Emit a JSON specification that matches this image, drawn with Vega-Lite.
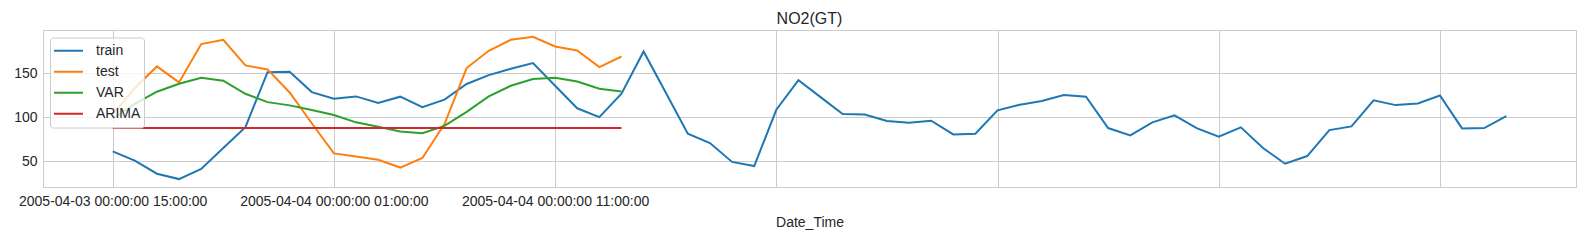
{
  "$schema": "https://vega.github.io/schema/vega-lite/v6.json",
  "width": 1533,
  "height": 157,
  "autosize": {"type": "none"},
  "padding": {"left": 43, "top": 30, "right": 9, "bottom": 53},
  "background": "white",
  "title": {"text": "NO2(GT)", "fontSize": 16, "font": "Liberation Sans", "fontWeight": "normal", "color": "#262626", "offset": 3, "anchor": "middle"},
  "config": {
    "view": {"stroke": "#cccccc", "strokeWidth": 1},
    "font": "Liberation Sans",
    "axis": {"domain": false, "ticks": false, "gridColor": "#cccccc", "gridWidth": 1, "labelFont": "Liberation Sans", "labelFontSize": 14, "labelColor": "#262626", "titleFont": "Liberation Sans", "titleFontSize": 14, "titleFontWeight": "normal", "titleColor": "#262626"}
  },
  "data": {"values": [
    {"i":0,"s":"train","v":61},{"i":1,"s":"train","v":50.4},{"i":2,"s":"train","v":35.6},{"i":3,"s":"train","v":29.5},{"i":4,"s":"train","v":41},{"i":5,"s":"train","v":64.8},{"i":6,"s":"train","v":88.6},{"i":7,"s":"train","v":151},{"i":8,"s":"train","v":151.5},{"i":9,"s":"train","v":128.4},
    {"i":10,"s":"train","v":120.8},{"i":11,"s":"train","v":123.5},{"i":12,"s":"train","v":116},{"i":13,"s":"train","v":123.2},{"i":14,"s":"train","v":111.3},{"i":15,"s":"train","v":119.8},{"i":16,"s":"train","v":137.6},{"i":17,"s":"train","v":147.7},{"i":18,"s":"train","v":155},{"i":19,"s":"train","v":161.4},
    {"i":20,"s":"train","v":135.6},{"i":21,"s":"train","v":110},{"i":22,"s":"train","v":100},{"i":23,"s":"train","v":126.5},{"i":24,"s":"train","v":174.6},{"i":25,"s":"train","v":128},{"i":26,"s":"train","v":81.1},{"i":27,"s":"train","v":70.5},{"i":28,"s":"train","v":49},{"i":29,"s":"train","v":44.3},
    {"i":30,"s":"train","v":108.3},{"i":31,"s":"train","v":142},{"i":32,"s":"train","v":122.7},{"i":33,"s":"train","v":103.4},{"i":34,"s":"train","v":103},{"i":35,"s":"train","v":95.5},{"i":36,"s":"train","v":93.6},{"i":37,"s":"train","v":95.8},{"i":38,"s":"train","v":80.3},{"i":39,"s":"train","v":81},
    {"i":40,"s":"train","v":107.6},{"i":41,"s":"train","v":114},{"i":42,"s":"train","v":118.2},{"i":43,"s":"train","v":125},{"i":44,"s":"train","v":123.1},{"i":45,"s":"train","v":87.5},{"i":46,"s":"train","v":79.2},{"i":47,"s":"train","v":94},{"i":48,"s":"train","v":101.9},{"i":49,"s":"train","v":87.5},
    {"i":50,"s":"train","v":77.7},{"i":51,"s":"train","v":88.3},{"i":52,"s":"train","v":64.8},{"i":53,"s":"train","v":47},{"i":54,"s":"train","v":55.7},{"i":55,"s":"train","v":85.2},{"i":56,"s":"train","v":89.4},{"i":57,"s":"train","v":119},{"i":58,"s":"train","v":113.6},{"i":59,"s":"train","v":115.5},
    {"i":60,"s":"train","v":124.6},{"i":61,"s":"train","v":87.1},{"i":62,"s":"train","v":87.5},{"i":63,"s":"train","v":101.1},
    {"i":0,"s":"test","v":103},{"i":1,"s":"test","v":133},{"i":2,"s":"test","v":157.6},{"i":3,"s":"test","v":139.4},{"i":4,"s":"test","v":183},{"i":5,"s":"test","v":187.9},{"i":6,"s":"test","v":158.7},{"i":7,"s":"test","v":154.2},{"i":8,"s":"test","v":128},{"i":9,"s":"test","v":93},
    {"i":10,"s":"test","v":58.7},{"i":11,"s":"test","v":55.3},{"i":12,"s":"test","v":51.5},{"i":13,"s":"test","v":42.6},{"i":14,"s":"test","v":53.5},{"i":15,"s":"test","v":92},{"i":16,"s":"test","v":155.7},{"i":17,"s":"test","v":175.4},{"i":18,"s":"test","v":187.9},{"i":19,"s":"test","v":191.3},
    {"i":20,"s":"test","v":180.3},{"i":21,"s":"test","v":175.8},{"i":22,"s":"test","v":156.8},{"i":23,"s":"test","v":168.9},
    {"i":0,"s":"VAR","v":98.1},{"i":1,"s":"VAR","v":115},{"i":2,"s":"VAR","v":128.8},{"i":3,"s":"VAR","v":137.9},{"i":4,"s":"VAR","v":144.7},{"i":5,"s":"VAR","v":141.3},{"i":6,"s":"VAR","v":126.5},{"i":7,"s":"VAR","v":117},{"i":8,"s":"VAR","v":113.3},{"i":9,"s":"VAR","v":108},
    {"i":10,"s":"VAR","v":102.3},{"i":11,"s":"VAR","v":94},{"i":12,"s":"VAR","v":89},{"i":13,"s":"VAR","v":83.5},{"i":14,"s":"VAR","v":81.6},{"i":15,"s":"VAR","v":90},{"i":16,"s":"VAR","v":106},{"i":17,"s":"VAR","v":123.5},{"i":18,"s":"VAR","v":135.6},{"i":19,"s":"VAR","v":143.2},
    {"i":20,"s":"VAR","v":144.7},{"i":21,"s":"VAR","v":140.5},{"i":22,"s":"VAR","v":132.2},{"i":23,"s":"VAR","v":129.2},
    {"i":0,"s":"ARIMA","v":87.5},{"i":1,"s":"ARIMA","v":87.5},{"i":2,"s":"ARIMA","v":87.5},{"i":3,"s":"ARIMA","v":87.5},{"i":4,"s":"ARIMA","v":87.5},{"i":5,"s":"ARIMA","v":87.5},{"i":6,"s":"ARIMA","v":87.5},{"i":7,"s":"ARIMA","v":87.5},{"i":8,"s":"ARIMA","v":87.5},{"i":9,"s":"ARIMA","v":87.5},
    {"i":10,"s":"ARIMA","v":87.5},{"i":11,"s":"ARIMA","v":87.5},{"i":12,"s":"ARIMA","v":87.5},{"i":13,"s":"ARIMA","v":87.5},{"i":14,"s":"ARIMA","v":87.5},{"i":15,"s":"ARIMA","v":87.5},{"i":16,"s":"ARIMA","v":87.5},{"i":17,"s":"ARIMA","v":87.5},{"i":18,"s":"ARIMA","v":87.5},{"i":19,"s":"ARIMA","v":87.5},
    {"i":20,"s":"ARIMA","v":87.5},{"i":21,"s":"ARIMA","v":87.5},{"i":22,"s":"ARIMA","v":87.5},{"i":23,"s":"ARIMA","v":87.5}
  ]},
  "mark": {"type": "line", "strokeWidth": 2, "clip": true},
  "encoding": {
    "x": {"field": "i", "type": "quantitative", "title": "Date_Time",
      "scale": {"domain": [-3.15, 66.15], "nice": false, "zero": false},
      "axis": {"values": [0, 10, 20, 30, 40, 50, 60], "labelPadding": 7, "titlePadding": 7, "labelFlush": false, "labelOverlap": false, "labelLimit": 0,
        "labelExpr": "datum.value == 0 ? '2005-04-03 00:00:00 15:00:00' : datum.value == 10 ? '2005-04-04 00:00:00 01:00:00' : datum.value == 20 ? '2005-04-04 00:00:00 11:00:00' : ''"}},
    "y": {"field": "v", "type": "quantitative", "title": null,
      "scale": {"domain": [20.5, 199], "nice": false, "zero": false},
      "axis": {"values": [50, 100, 150], "labelPadding": 6}},
    "color": {"field": "s", "type": "nominal",
      "scale": {"domain": ["train", "test", "VAR", "ARIMA"], "range": ["#1f77b4", "#ff7f0e", "#2ca02c", "#d62728"]},
      "legend": {"title": null, "orient": "none", "legendX": 7, "legendY": 7.5, "padding": 3, "fillColor": "rgba(255,255,255,0.8)", "strokeColor": "#cccccc", "cornerRadius": 3,
        "symbolType": "stroke", "symbolSize": 841, "symbolStrokeWidth": 2, "labelFontSize": 14, "labelColor": "#262626", "labelOffset": 12, "rowPadding": 0, "clipHeight": 20.5}},
    "order": {"field": "i", "type": "quantitative"}
  }
}
